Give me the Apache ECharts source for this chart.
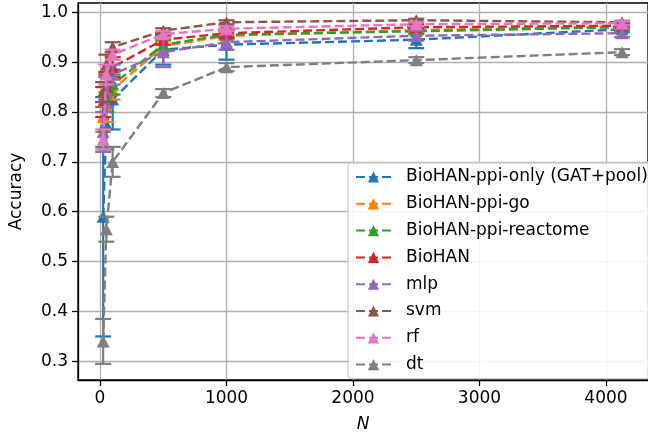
<!DOCTYPE html>
<html>
<head>
<meta charset="utf-8">
<script src="https://cdn.jsdelivr.net/npm/echarts@6/dist/echarts.min.js"></script>
<style>html,body{margin:0;padding:0;background:#fff;}#c{width:648px;height:438px;}</style>
</head>
<body>
<div id="c"></div>
<script>
const N = [25, 50, 100, 500, 1000, 2500, 4127];
const seriesNames = ['BioHAN-ppi-only (GAT+pool)', 'BioHAN-ppi-go', 'BioHAN-ppi-reactome', 'BioHAN', 'mlp', 'svm', 'rf', 'dt'];
const colors = ['#1f77b4', '#ff7f0e', '#2ca02c', '#d62728', '#9467bd', '#8c564b', '#e377c2', '#7f7f7f'];

const accPpiOnly   = [0.590, 0.775, 0.825, 0.925, 0.935, 0.945, 0.966];
const errPpiOnly   = [0.240, 0.050, 0.060, 0.030, 0.030, 0.017, 0.006];
const accPpiGo     = [0.790, 0.810, 0.845, 0.932, 0.953, 0.964, 0.972];
const errPpiGo     = [0.030, 0.030, 0.020, 0.010, 0.008, 0.006, 0.005];
const accPpiReact  = [0.770, 0.830, 0.855, 0.935, 0.955, 0.962, 0.970];
const errPpiReact  = [0.040, 0.030, 0.020, 0.010, 0.008, 0.006, 0.005];
const accBioHAN    = [0.820, 0.850, 0.890, 0.945, 0.958, 0.970, 0.973];
const errBioHAN    = [0.030, 0.030, 0.020, 0.010, 0.008, 0.006, 0.005];
const accMlp       = [0.760, 0.840, 0.875, 0.920, 0.940, 0.953, 0.958];
const errMlp       = [0.040, 0.030, 0.020, 0.030, 0.015, 0.010, 0.008];
const accSvm       = [0.840, 0.895, 0.930, 0.963, 0.980, 0.984, 0.980];
const errSvm       = [0.020, 0.020, 0.010, 0.005, 0.004, 0.003, 0.003];
const accRf        = [0.745, 0.875, 0.915, 0.956, 0.967, 0.976, 0.978];
const errRf        = [0.020, 0.020, 0.010, 0.006, 0.005, 0.004, 0.004];
const accDt        = [0.340, 0.565, 0.700, 0.838, 0.890, 0.904, 0.920];
const errDt        = [0.045, 0.025, 0.030, 0.008, 0.008, 0.006, 0.006];

const xTicks = [0, 1000, 2000, 3000, 4000];
const yTicks = [0.3, 0.4, 0.5, 0.6, 0.7, 0.8, 0.9, 1.0];

const accAll = [accPpiOnly, accPpiGo, accPpiReact, accBioHAN, accMlp, accSvm, accRf, accDt];
const errAll = [errPpiOnly, errPpiGo, errPpiReact, errBioHAN, errMlp, errSvm, errRf, errDt];

const FONT = 'DejaVu Sans';
const FS = 17;
const series = [];
accAll.forEach((acc, i) => {
  const err = errAll[i];
  const color = colors[i];
  series.push({
    type: 'custom',
    name: seriesNames[i] + ' (error)',
    z: 2 + i * 2,
    silent: true,
    clip: false,
    data: N.map((n, k) => [n, acc[k] - err[k], acc[k] + err[k]]),
    encode: { x: 0, y: [1, 2] },
    renderItem: function (params, api) {
      const x = api.value(0);
      const lo = api.coord([x, api.value(1)]);
      const hi = api.coord([x, api.value(2)]);
      const cw = 8;
      const st = { stroke: color, lineWidth: 2.2 };
      return {
        type: 'group',
        children: [
          { type: 'line', shape: { x1: lo[0], y1: lo[1], x2: hi[0], y2: hi[1] }, style: st },
          { type: 'line', shape: { x1: lo[0] - cw, y1: lo[1], x2: lo[0] + cw, y2: lo[1] }, style: st },
          { type: 'line', shape: { x1: hi[0] - cw, y1: hi[1], x2: hi[0] + cw, y2: hi[1] }, style: st }
        ]
      };
    }
  });
  series.push({
    type: 'line',
    name: seriesNames[i],
    z: 3 + i * 2,
    data: N.map((n, k) => [n, acc[k]]),
    symbol: 'triangle',
    symbolSize: [13, 12],
    showSymbol: true,
    animation: false,
    itemStyle: { color: color },
    lineStyle: { color: color, width: 2.4, type: [9, 4] }
  });
});

const chart = echarts.init(document.getElementById('c'), null, { renderer: 'canvas' });
chart.setOption({
  animation: false,
  backgroundColor: '#fff',
  color: colors,
  grid: { left: 78, right: -10, top: 3, bottom: 57, show: true, borderColor: '#000', borderWidth: 1.3, backgroundColor: 'transparent' },
  xAxis: {
    type: 'value', min: -174, max: 4332,
    name: 'N', nameLocation: 'middle', nameGap: 36,
    nameTextStyle: { fontFamily: FONT, fontSize: FS, fontStyle: 'italic', color: '#000' },
    axisLine: { show: true, onZero: false, lineStyle: { color: '#000', width: 1.3 } },
    axisTick: { show: true, length: 6, lineStyle: { color: '#000', width: 1.3 }, customValues: xTicks },
    axisLabel: { customValues: xTicks, margin: 10, fontFamily: FONT, fontSize: FS, color: '#000', formatter: v => String(v) },
    splitLine: { show: true, customValues: xTicks, lineStyle: { color: '#b0b0b0', width: 1.3 } }
  },
  yAxis: {
    type: 'value', min: 0.2626, max: 1.0186,
    name: 'Accuracy', nameLocation: 'middle', nameGap: 53,
    nameTextStyle: { fontFamily: FONT, fontSize: FS, color: '#000' },
    axisLine: { show: true, onZero: false, lineStyle: { color: '#000', width: 1.3 } },
    axisTick: { show: true, length: 6, lineStyle: { color: '#000', width: 1.3 }, customValues: yTicks },
    axisLabel: { customValues: yTicks, margin: 10, fontFamily: FONT, fontSize: FS, color: '#000', formatter: v => v.toFixed(1) },
    splitLine: { show: true, customValues: yTicks, lineStyle: { color: '#b0b0b0', width: 1.3 } }
  },
  legend: {
    data: seriesNames,
    orient: 'vertical',
    left: 348, top: 163,
    padding: [4, 5, 4, 7],
    itemWidth: 35, itemHeight: 14, itemGap: 6.8,
    backgroundColor: 'rgba(255,255,255,0.85)',
    borderColor: '#cccccc', borderWidth: 1.3, borderRadius: 4,
    textStyle: { fontFamily: FONT, fontSize: FS, color: '#000', lineHeight: 20, padding: [0, 0, 0, 10] },
    z: 50
  },
  series: series
});
</script>
</body>
</html>
